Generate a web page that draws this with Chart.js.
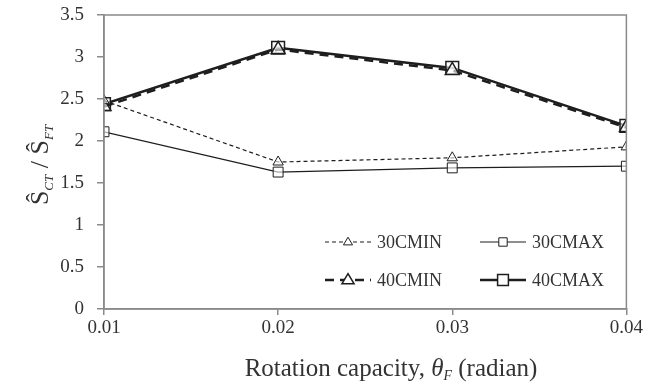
<!DOCTYPE html>
<html>
<head>
<meta charset="utf-8">
<script src="https://cdn.jsdelivr.net/npm/chart.js@4/dist/chart.umd.min.js"></script>
<style>
  html, body { margin: 0; padding: 0; background: #fff; overflow: hidden; }
  #wrap { width: 645px; height: 389px; position: relative; }
</style>
</head>
<body>
<div id="wrap"><canvas id="ratioChart"></canvas></div>
<script>
const rotationCapacity = [0.01, 0.02, 0.03, 0.04];
const min30 = [2.48, 1.75, 1.80, 1.93];
const max30 = [2.11, 1.63, 1.68, 1.70];
const min40 = [2.41, 3.09, 2.84, 2.16];
const max40 = [2.44, 3.11, 2.87, 2.18];
const yTicks = [0, 0.5, 1, 1.5, 2, 2.5, 3, 3.5];

const serif = "'Liberation Serif', 'Times New Roman', serif";
const textColor = "#333333";
const axisColor = "#8a8a8a";

function series(label, values, opts) {
  return {
    label,
    data: rotationCapacity.map((x, i) => ({ x, y: values[i] })),
    borderColor: "#1e1e1e",
    backgroundColor: "#ffffff",
    pointBorderColor: "#1e1e1e",
    pointBackgroundColor: "rgba(255,255,255,0.6)",
    fill: false,
    tension: 0,
    ...opts,
  };
}

// frame, y title, x title and the in-plot legend
const decorPlugin = {
  id: "decorPlugin",
  beforeDraw(chart) {
    const { ctx } = chart;
    ctx.save();
    ctx.fillStyle = "#fff";
    ctx.fillRect(0, 0, chart.width, chart.height);
    ctx.restore();
  },
  afterDraw(chart) {
    const { ctx, chartArea } = chart;
    ctx.save();
    ctx.strokeStyle = axisColor;
    ctx.lineWidth = 1.5;
    ctx.strokeRect(chartArea.left, chartArea.top, chartArea.right - chartArea.left, chartArea.bottom - chartArea.top);

    // y axis title: S^CT / S^FT
    ctx.fillStyle = textColor;
    ctx.translate(40, (chartArea.top + chartArea.bottom) / 2 + 3);
    ctx.rotate(-Math.PI / 2);
    const parts = [
      { t: "\u015C", f: "26px " + serif, dy: 0 },
      { t: "CT", f: "italic 13px " + serif, dy: 5 },
      { t: " / ", f: "26px " + serif, dy: 0 },
      { t: "\u015C", f: "26px " + serif, dy: 0 },
      { t: "FT", f: "italic 13px " + serif, dy: 5 },
    ];
    let total = 0;
    parts.forEach((p) => { ctx.font = p.f; total += ctx.measureText(p.t).width; });
    let px = -total / 2;
    ctx.textBaseline = "alphabetic";
    ctx.textAlign = "left";
    parts.forEach((p) => {
      ctx.font = p.f;
      ctx.fillText(p.t, px, 8 + p.dy);
      px += ctx.measureText(p.t).width;
    });
    ctx.setTransform(1, 0, 0, 1, 0, 0);

    // x axis title
    const xParts = [
      { t: "Rotation capacity, ", f: "25px " + serif, dy: 0 },
      { t: "\u03B8", f: "italic 25px " + serif, dy: 0 },
      { t: "F", f: "italic 14px " + serif, dy: 4 },
      { t: " (radian)", f: "25px " + serif, dy: 0 },
    ];
    total = 0;
    xParts.forEach((p) => { ctx.font = p.f; total += ctx.measureText(p.t).width; });
    px = 391 - total / 2;
    xParts.forEach((p) => {
      ctx.font = p.f;
      ctx.fillText(p.t, px, 376 + p.dy);
      px += ctx.measureText(p.t).width;
    });

    // legend inside plot
    const entries = [
      { ds: 0, x: 325, y: 242 },
      { ds: 1, x: 480, y: 242 },
      { ds: 2, x: 325, y: 280 },
      { ds: 3, x: 480, y: 280 },
    ];
    ctx.font = "18px " + serif;
    ctx.textBaseline = "middle";
    entries.forEach((e) => {
      const ds = chart.data.datasets[e.ds];
      ctx.strokeStyle = ds.borderColor;
      ctx.lineWidth = ds.borderWidth;
      ctx.setLineDash(ds.borderDash || []);
      ctx.beginPath();
      ctx.moveTo(e.x, e.y);
      ctx.lineTo(e.x + 46, e.y);
      ctx.stroke();
      ctx.setLineDash([]);
      const mx = e.x + 23;
      const r = ds.pointRadius * 0.8;
      ctx.fillStyle = "#fff";
      ctx.lineWidth = ds.pointBorderWidth;
      ctx.beginPath();
      if (ds.pointStyle === "triangle") {
        ctx.moveTo(mx, e.y - r);
        ctx.lineTo(mx + r * 0.95, e.y + r * 0.6);
        ctx.lineTo(mx - r * 0.95, e.y + r * 0.6);
        ctx.closePath();
      } else {
        ctx.rect(mx - r * 0.75, e.y - r * 0.75, r * 1.5, r * 1.5);
      }
      ctx.fill();
      ctx.stroke();
      ctx.fillStyle = textColor;
      ctx.fillText(ds.label, e.x + 52, e.y + 1);
    });
    ctx.restore();
  },
};

new Chart(document.getElementById("ratioChart"), {
  type: "line",
  data: {
    datasets: [
      series("30CMIN", min30, { borderWidth: 1.2, borderDash: [4, 3], pointStyle: "triangle", pointRadius: 6, pointBorderWidth: 1 }),
      series("30CMAX", max30, { borderWidth: 1.2, pointStyle: "rect", pointRadius: 7, pointBorderWidth: 1 }),
      series("40CMIN", min40, { borderWidth: 2.5, borderDash: [9, 6], pointStyle: "triangle", pointRadius: 8, pointBorderWidth: 1.5 }),
      series("40CMAX", max40, { borderWidth: 2.5, pointStyle: "rect", pointRadius: 9, pointBorderWidth: 1.5 }),
    ],
  },
  options: {
    responsive: true,
    maintainAspectRatio: false,
    animation: false,
    layout: { padding: { top: 15, right: 16, left: 0, bottom: 0 } },
    plugins: {
      legend: { display: false },
      tooltip: { enabled: false },
    },
    scales: {
      x: {
        type: "linear",
        min: rotationCapacity[0],
        max: rotationCapacity[rotationCapacity.length - 1],
        afterBuildTicks(scale) {
          scale.ticks = rotationCapacity.map((v) => ({ value: v }));
        },
        afterFit(scale) { scale.height = 80; },
        ticks: {
          color: textColor,
          font: { family: serif, size: 19 },
          padding: 2,
          maxRotation: 0,
          callback: (v) => Number(v).toFixed(2),
        },
        grid: { drawOnChartArea: false, tickLength: 6, color: axisColor, lineWidth: 1.5 },
        border: { color: axisColor, width: 1.5 },
      },
      y: {
        min: yTicks[0],
        max: yTicks[yTicks.length - 1],
        afterBuildTicks(scale) {
          scale.ticks = yTicks.map((v) => ({ value: v }));
        },
        afterFit(scale) {
          scale.width = 104;
          scale.paddingTop = 0;
          scale.paddingBottom = 0;
        },
        ticks: {
          color: textColor,
          font: { family: serif, size: 19 },
          padding: 13,
          callback: (v) => String(v),
        },
        grid: { drawOnChartArea: false, tickLength: 7, color: axisColor, lineWidth: 1.5 },
        border: { color: axisColor, width: 1.5 },
      },
    },
  },
  plugins: [decorPlugin],
});
</script>
</body>
</html>
